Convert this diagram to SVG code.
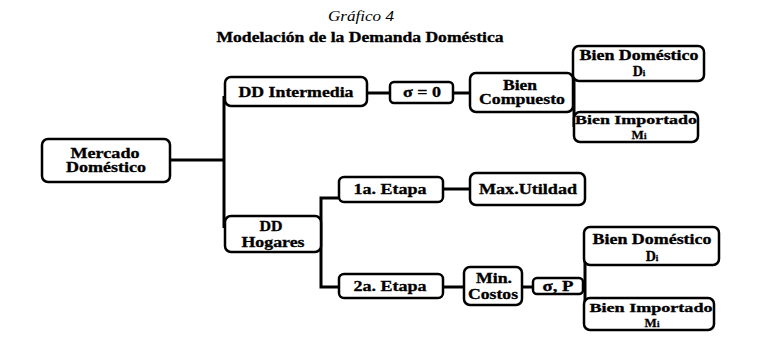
<svg xmlns="http://www.w3.org/2000/svg" width="759" height="343" viewBox="0 0 759 343">
<style>
.box{fill:#fff;stroke:#000;stroke-width:2.5}
.t{font-family:"Liberation Serif","Times New Roman",serif;font-weight:bold;font-size:14px;fill:#000;stroke:#000;stroke-width:0.3;text-anchor:middle}
.m{font-size:13px}
.s{font-size:9px}
.ln{fill:none;stroke:#000;stroke-width:3}
</style>
<rect width="759" height="343" fill="#fff"/>
<text x="361" y="21" font-family="Liberation Serif,serif" font-style="italic" font-size="15" text-anchor="middle" textLength="66" lengthAdjust="spacingAndGlyphs">Gráfico 4</text>
<text x="360" y="42" class="t" font-size="16" textLength="287" lengthAdjust="spacingAndGlyphs">Modelación de la Demanda Doméstica</text>
<g id="connectors">
<path class="ln" d="M170,160 H224 M224,96 V228"/>
<path class="ln" d="M367,93 H390 M453,93 H470"/>
<path class="ln" d="M574,64 V127"/>
<path class="ln" d="M339,198 H321 V287 H339"/>
<path class="ln" d="M443,189 H470 M443,287 H464 M522,287 H533"/>
<path class="ln" d="M585,245 V313"/>
</g>
<g id="mercado"><rect class="box" x="42" y="139" width="128" height="43" rx="6"/>
<text class="t" x="105" y="158" textLength="69" lengthAdjust="spacingAndGlyphs">Mercado</text>
<text class="t" x="106" y="172" textLength="80" lengthAdjust="spacingAndGlyphs">Doméstico</text></g>
<g id="dd-intermedia"><rect class="box" x="225" y="77" width="142" height="29" rx="6"/>
<text class="t" x="296" y="97" textLength="115" lengthAdjust="spacingAndGlyphs">DD Intermedia</text></g>
<g id="sigma0"><rect class="box" x="390" y="82" width="63" height="21" rx="4"/>
<text class="t" x="422" y="97" textLength="38" lengthAdjust="spacingAndGlyphs">σ = 0</text></g>
<g id="bien-compuesto"><rect class="box" x="470" y="73" width="103" height="39" rx="6"/>
<text class="t" x="520" y="90" textLength="34" lengthAdjust="spacingAndGlyphs">Bien</text>
<text class="t" x="522" y="104" textLength="86" lengthAdjust="spacingAndGlyphs">Compuesto</text></g>
<g id="bien-domestico-1"><rect class="box" x="573" y="46" width="131" height="35" rx="6"/>
<text class="t" x="639" y="60" textLength="119" lengthAdjust="spacingAndGlyphs">Bien Doméstico</text>
<text class="t" x="639" y="76">D<tspan class="s">i</tspan></text></g>
<g id="bien-importado-1"><rect class="box" x="574" y="112" width="124" height="30" rx="6"/>
<text class="t m" x="636" y="124" textLength="122" lengthAdjust="spacingAndGlyphs">Bien Importado</text>
<text class="t m" x="639" y="139">M<tspan class="s">i</tspan></text></g>
<g id="dd-hogares"><rect class="box" x="225" y="216" width="96" height="36" rx="6"/>
<text class="t" x="271" y="231" textLength="23" lengthAdjust="spacingAndGlyphs">DD</text>
<text class="t" x="273" y="247" textLength="63" lengthAdjust="spacingAndGlyphs">Hogares</text></g>
<g id="etapa1"><rect class="box" x="339" y="177" width="104" height="25" rx="5"/>
<text class="t" x="390" y="194" textLength="73" lengthAdjust="spacingAndGlyphs">1a. Etapa</text></g>
<g id="max-utilidad"><rect class="box" x="470" y="173" width="115" height="32" rx="6"/>
<text class="t" x="528" y="194" textLength="98" lengthAdjust="spacingAndGlyphs">Max.Utildad</text></g>
<g id="etapa2"><rect class="box" x="339" y="274" width="104" height="24" rx="5"/>
<text class="t" x="390" y="291" textLength="73" lengthAdjust="spacingAndGlyphs">2a. Etapa</text></g>
<g id="min-costos"><rect class="box" x="464" y="267" width="58" height="38" rx="6"/>
<text class="t" x="494" y="283" textLength="36" lengthAdjust="spacingAndGlyphs">Min.</text>
<text class="t" x="493" y="299" textLength="50" lengthAdjust="spacingAndGlyphs">Costos</text></g>
<g id="sigma-p"><rect class="box" x="533" y="278" width="50" height="16" rx="4"/>
<text class="t" x="558" y="291" textLength="31" lengthAdjust="spacingAndGlyphs">σ, P</text></g>
<g id="bien-domestico-2"><rect class="box" x="584" y="227" width="135" height="38" rx="6"/>
<text class="t" x="652" y="244" textLength="119" lengthAdjust="spacingAndGlyphs">Bien Doméstico</text>
<text class="t" x="652" y="261">D<tspan class="s">i</tspan></text></g>
<g id="bien-importado-2"><rect class="box" x="584" y="298" width="130" height="32" rx="6"/>
<text class="t m" x="651" y="312" textLength="123" lengthAdjust="spacingAndGlyphs">Bien Importado</text>
<text class="t m" x="652" y="327">M<tspan class="s">i</tspan></text></g>
</svg>
